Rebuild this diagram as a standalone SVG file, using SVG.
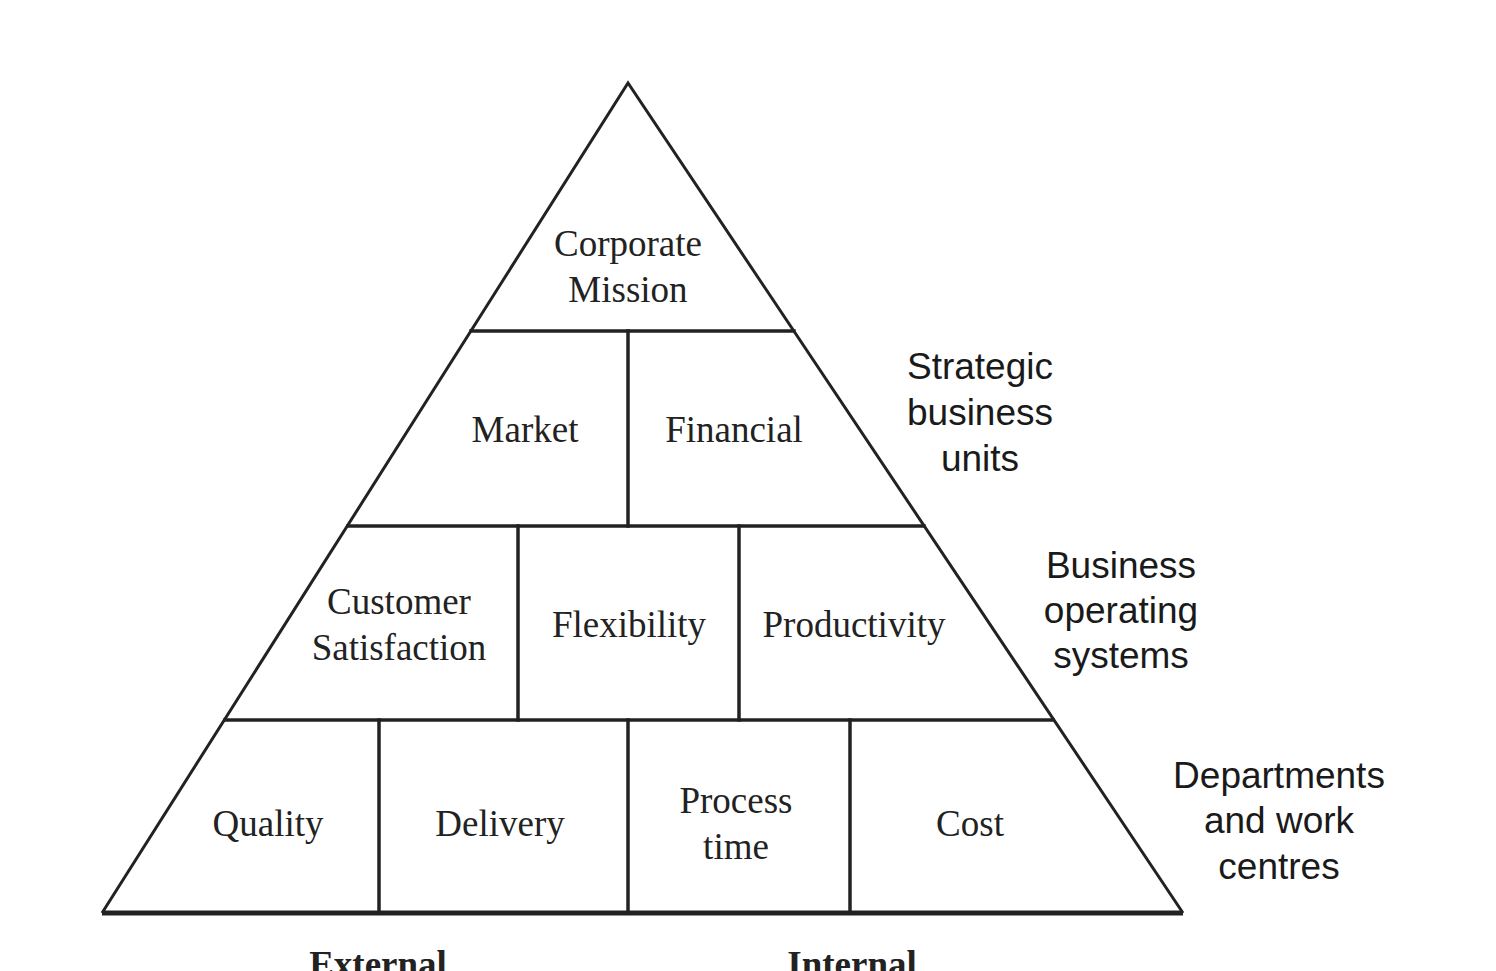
<svg xmlns="http://www.w3.org/2000/svg" width="1496" height="971" viewBox="0 0 1496 971">
<style>
.ln{stroke:#222;stroke-width:3.5;fill:none;stroke-linecap:square}
.dg{stroke:#222;stroke-width:3;fill:none}
.base{stroke:#222;stroke-width:5;fill:none}
.cell{font-family:"Liberation Serif","Times New Roman",serif;font-size:37px;fill:#222;text-anchor:middle}
.lvl{font-family:"Liberation Sans",Arial,sans-serif;font-size:37px;fill:#1a1a1a;text-anchor:middle}
.foot{font-family:"Liberation Serif","Times New Roman",serif;font-size:37px;font-weight:bold;fill:#222;text-anchor:middle}
</style>
<rect width="1496" height="971" fill="#fff"/>
<g id="connectors">
<polyline class="dg" points="102,913 628,83 1183,913"/>
<line class="base" x1="102" y1="913" x2="1183" y2="913"/>
<line class="ln" x1="471" y1="331" x2="794" y2="331"/>
<line class="ln" x1="348" y1="526" x2="924" y2="526"/>
<line class="ln" x1="225" y1="720" x2="1053" y2="720"/>
<line class="ln" x1="628" y1="331" x2="628" y2="526"/>
<line class="ln" x1="518" y1="526" x2="518" y2="720"/>
<line class="ln" x1="739" y1="526" x2="739" y2="720"/>
<line class="ln" x1="379" y1="720" x2="379" y2="913"/>
<line class="ln" x1="628" y1="720" x2="628" y2="913"/>
<line class="ln" x1="850" y1="720" x2="850" y2="913"/>
</g>
<g id="corporate-mission"><text class="cell" x="628" y="256">Corporate</text><text class="cell" x="628" y="302">Mission</text></g>
<g id="market"><text class="cell" x="525" y="442">Market</text></g>
<g id="financial"><text class="cell" x="734" y="442">Financial</text></g>
<g id="customer-satisfaction"><text class="cell" x="399" y="614">Customer</text><text class="cell" x="399" y="660">Satisfaction</text></g>
<g id="flexibility"><text class="cell" x="629" y="637">Flexibility</text></g>
<g id="productivity"><text class="cell" x="854" y="637">Productivity</text></g>
<g id="quality"><text class="cell" x="268" y="836">Quality</text></g>
<g id="delivery"><text class="cell" x="500" y="836">Delivery</text></g>
<g id="process-time"><text class="cell" x="736" y="813">Process</text><text class="cell" x="736" y="859">time</text></g>
<g id="cost"><text class="cell" x="970" y="836">Cost</text></g>
<g id="level-sbu"><text class="lvl" x="980" y="379">Strategic</text><text class="lvl" x="980" y="425">business</text><text class="lvl" x="980" y="471">units</text></g>
<g id="level-bos"><text class="lvl" x="1121" y="578">Business</text><text class="lvl" x="1121" y="623">operating</text><text class="lvl" x="1121" y="668">systems</text></g>
<g id="level-dept"><text class="lvl" x="1279" y="788">Departments</text><text class="lvl" x="1279" y="833">and work</text><text class="lvl" x="1279" y="879">centres</text></g>
<g id="external"><text class="foot" x="378" y="977">External</text></g>
<g id="internal"><text class="foot" x="852" y="977">Internal</text></g>
</svg>
